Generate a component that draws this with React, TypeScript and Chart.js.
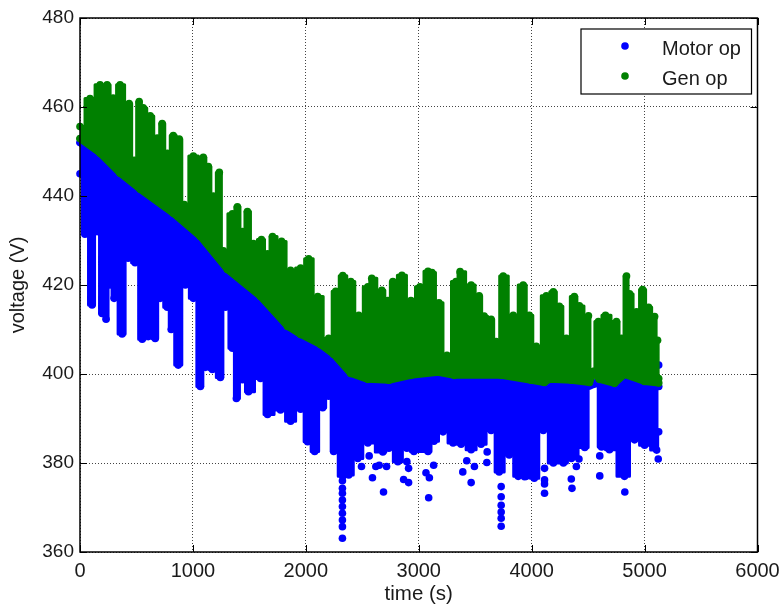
import React, { useEffect, useRef } from "react";
import { Chart, registerables } from "chart.js";

Chart.register(...registerables);

const xTicks = [0, 1000, 2000, 3000, 4000, 5000, 6000];
const yTicks = [360, 380, 400, 420, 440, 460, 480];
const legendNames = ["Motor op", "Gen op"];

// Upper edge of the Gen op cloud
const genPeakT = [0,89,178,240,293,355,435,480,524,560,622,684,728,773,826,879,924,1004,1092,1137,1181,1234,1270,1350,1394,1439,1483,1536,1607,1661,1705,1785,1865,1954,2025,2105,2202,2265,2327,2398,2469,2549,2584,2673,2726,2771,2851,2931,3011,3082,3117,3179,3250,3330,3366,3464,3535,3579,3641,3686,3748,3837,3925,3979,4041,4130,4192,4245,4307,4378,4423,4503,4529,4591,4654,4751,4796,4840,4867,4929,4982,5036,5089,5115,5125];
const genPeakV = [455.6,461.9,465,465,462,465,460.8,448,461.2,459.8,458,453,456.3,449.6,453.6,452.8,438.1,449,448.7,446.6,440,445.3,427.7,436,437.6,432,436.5,429.3,430.2,427,430.9,429.8,423.3,423.8,425.9,417.4,408,418.6,422.1,420.8,413.2,419.6,421.5,418.8,416.5,420.8,422.2,416.5,419.6,423.1,422.8,416,404.2,420.8,423,420,417.6,413,412.3,407.3,422,413.2,420,413.2,406.2,417.6,418.5,415.2,408,417.4,415.3,413.1,400.5,411.8,413.2,411.8,408,422,418,414,419,415,412.9,407.6,399];

// Lower edge of the Gen op cloud
const genFloorT = [0,178,355,533,826,1066,1305,1599,1838,1954,2131,2247,2398,2549,2735,2931,3171,3313,3730,3996,4112,4156,4352,4512,4547,4600,4734,4822,5000,5125];
const genFloorV = [452.9,449.6,445.1,441.5,436.1,430.9,423.5,417.4,410.7,408.9,406.6,404.4,400.1,398.8,398.6,399.7,400.4,399.7,399.7,398.6,398.1,398.8,398.6,398.1,400.6,398.8,397.9,399.9,398.3,398];

// Upper edge of the Motor op cloud
const motorTopT = [0,178,355,533,826,1066,1305,1599,1838,1954,2131,2247,2398,2549,2735,2931,3171,3313,3730,3996,4112,4156,4352,4512,4600,4734,4822,5000,5125];
const motorTopV = [452,448.8,444.3,440.7,435.3,430.1,422.7,416.6,409.9,408.1,405.8,403.6,399.3,398,397.8,398.9,399.6,398.9,398.9,397.8,397.3,398,397.8,397.3,398,397.1,399.1,397.5,397.2];

// Lower edge of the Motor op cloud
const motorLowT = [0,44,107,151,195,231,266,302,373,426,488,551,604,666,710,773,808,870,933,1004,1066,1110,1172,1243,1288,1350,1385,1439,1492,1599,1661,1776,1865,1954,2016,2078,2149,2202,2247,2327,2380,2460,2549,2682,2735,2815,2895,2957,3082,3135,3215,3304,3375,3464,3552,3641,3712,3801,3881,3952,4023,4103,4192,4281,4352,4470,4530,4560,4619,4689,4822,4911,5000,5107,5125];
const motorLowV = [445,431.4,415.5,432,413.6,412.3,420,417,409,426,425,407.8,408.4,408,417,415,410,402,420,417,397.2,401.5,401,399.2,415,405.8,394.5,398.7,396,399,390.9,391.9,389.4,392.1,384.8,382.6,392.4,395,382.6,377,377.3,381,384.5,382.5,383.3,380.3,383.3,382.6,382.6,384.9,387,384.5,384.2,383,384.2,387.3,378,381.8,377,377,376.6,387.3,380,380,381,383.5,398,398,383.6,383,377,385.2,384,382.9,387];

// Isolated Motor op points below the cloud
const strayT = [2324,2324,2324,2324,2324,2324,2324,2324,2324,2561,2493,2590,2620,2650,2715,2688,2812,2895,2910,2866,2910,3064,3094,3088,3132,3425,3390,3493,3464,3606,3603,3730,3730,3730,3730,3730,3730,4114,4114,4114,4114,4351,4357,4603,4603,4825,4825,4825,4825,4825,5121,4396,4419,4286,3937,3878,4020,5125];
const strayV = [363.1,365.7,367.2,368.7,370.2,371.7,373.2,374.3,376,381.6,379.2,376.7,379.2,379.5,379.2,373.5,380.7,380.3,378.8,376.3,375.6,377.8,376.7,372.2,379.5,380.5,378,379.2,375.6,382.5,380.1,374.7,372.4,370.5,369,367.6,365.8,378.8,376.2,375.3,373.2,376.4,374.3,377.1,381.6,373.5,377.7,379.2,380.7,382.2,380.9,379.2,380.9,381,376.9,377.7,376.9,402];

const BLUE = "#0000ff";
const GREEN = "#008000";
const FONT = "'Liberation Sans', Arial, sans-serif";

const zip = (ts: number[], vs: number[]) => ts.map((t, i) => ({ x: t, y: vs[i] }));

const framePlugin = {
  id: "frame",
  afterDraw(chart: any) {
    const { ctx, chartArea: a, scales } = chart;
    ctx.save();
    ctx.strokeStyle = "#000";
    ctx.lineWidth = 1.5;
    ctx.strokeRect(a.left, a.top, a.right - a.left, a.bottom - a.top);
    ctx.lineWidth = 1;
    ctx.beginPath();
    for (const t of xTicks) {
      const p = Math.round(scales.x.getPixelForValue(t)) + 0.5;
      ctx.moveTo(p, a.bottom); ctx.lineTo(p, a.bottom - 7);
      ctx.moveTo(p, a.top); ctx.lineTo(p, a.top + 7);
    }
    for (const v of yTicks) {
      const p = Math.round(scales.y.getPixelForValue(v)) + 0.5;
      ctx.moveTo(a.left, p); ctx.lineTo(a.left + 7, p);
      ctx.moveTo(a.right, p); ctx.lineTo(a.right - 7, p);
    }
    ctx.stroke();
    // legend box
    ctx.fillStyle = "#fff";
    ctx.fillRect(581, 29, 170.5, 65);
    ctx.lineWidth = 1.2;
    ctx.strokeRect(581, 29, 170.5, 65);
    const colors = [BLUE, GREEN];
    const ys = [46, 76];
    legendNames.forEach((name, i) => {
      ctx.fillStyle = colors[i];
      ctx.beginPath();
      ctx.arc(625, ys[i], 3.8, 0, Math.PI * 2);
      ctx.fill();
      ctx.fillStyle = "#1a1a1a";
      ctx.font = `20px ${FONT}`;
      ctx.textBaseline = "middle";
      ctx.textAlign = "left";
      ctx.fillText(name, 662, ys[i] + 3);
    });
    ctx.restore();
  },
};

export default function App() {
  const ref = useRef<HTMLCanvasElement>(null);
  useEffect(() => {
    document.body.style.margin = "0";
    const cloud = (data: any[], color: string, width: number, extra: any = {}) => ({
      data,
      borderColor: color,
      backgroundColor: color,
      showLine: true,
      borderWidth: width,
      borderJoinStyle: "round",
      borderCapStyle: "round",
      pointRadius: 3.8,
      pointBorderWidth: 0,
      pointBackgroundColor: color,
      clip: false,
      ...extra,
    });
    const plain = (v: any) => String(v);
    const chart = new Chart(ref.current!, {
      type: "scatter",
      data: {
        datasets: [
          cloud(zip(genPeakT, genPeakV), GREEN, 3, { label: "Gen op", stepped: "middle", fill: { target: 1 } }),
          cloud(zip(genFloorT, genFloorV), GREEN, 7, { label: "Gen op floor" }),
          cloud(zip(motorTopT, motorTopV), BLUE, 7, { label: "Motor op", fill: { target: 3 } }),
          cloud(zip(motorLowT, motorLowV), BLUE, 3, { label: "Motor op low", stepped: "middle" }),
          { label: "Motor op stray", data: zip(strayT, strayV), pointRadius: 3.8, pointBorderWidth: 0, pointBackgroundColor: BLUE, showLine: false, clip: false },
        ] as any,
      },
      options: {
        animation: false,
        responsive: false,
        layout: { padding: { top: 18, right: 24.5, bottom: 0, left: 0 } },
        plugins: { legend: { display: false }, tooltip: { enabled: false } },
        scales: {
          x: {
            type: "linear",
            min: 0,
            max: 6000,
            afterBuildTicks: (s: any) => { s.ticks = xTicks.map((value) => ({ value })); },
            afterFit: (s: any) => { s.height = 55; s.paddingRight = 0; s.paddingLeft = 0; },
            border: { display: false, dash: [1, 2] },
            grid: { color: "#444", lineWidth: 1, tickLength: 0 },
            ticks: { color: "#1a1a1a", font: { family: FONT, size: 20 }, padding: 7, maxRotation: 0, autoSkip: false, callback: plain },
            title: { display: true, text: "time (s)", color: "#1a1a1a", font: { family: FONT, size: 20.5 }, padding: { top: 1, bottom: 0 } },
          },
          y: {
            type: "linear",
            min: 360,
            max: 480,
            afterBuildTicks: (s: any) => { s.ticks = yTicks.map((value) => ({ value })); },
            afterFit: (s: any) => { s.width = 80; s.paddingTop = 0; s.paddingBottom = 0; },
            border: { display: false, dash: [1, 2] },
            grid: { color: "#444", lineWidth: 1, tickLength: 0 },
            ticks: { color: "#1a1a1a", font: { family: FONT, size: 19 }, padding: 6, callback: plain },
            title: { display: true, text: "voltage (V)", color: "#1a1a1a", font: { family: FONT, size: 20 }, padding: { top: 6, bottom: 0 } },
          },
        },
      } as any,
      plugins: [framePlugin],
    });
    return () => chart.destroy();
  }, []);
  return <canvas ref={ref} width={782} height={607} style={{ display: "block", width: 782, height: 607 }} />;
}
